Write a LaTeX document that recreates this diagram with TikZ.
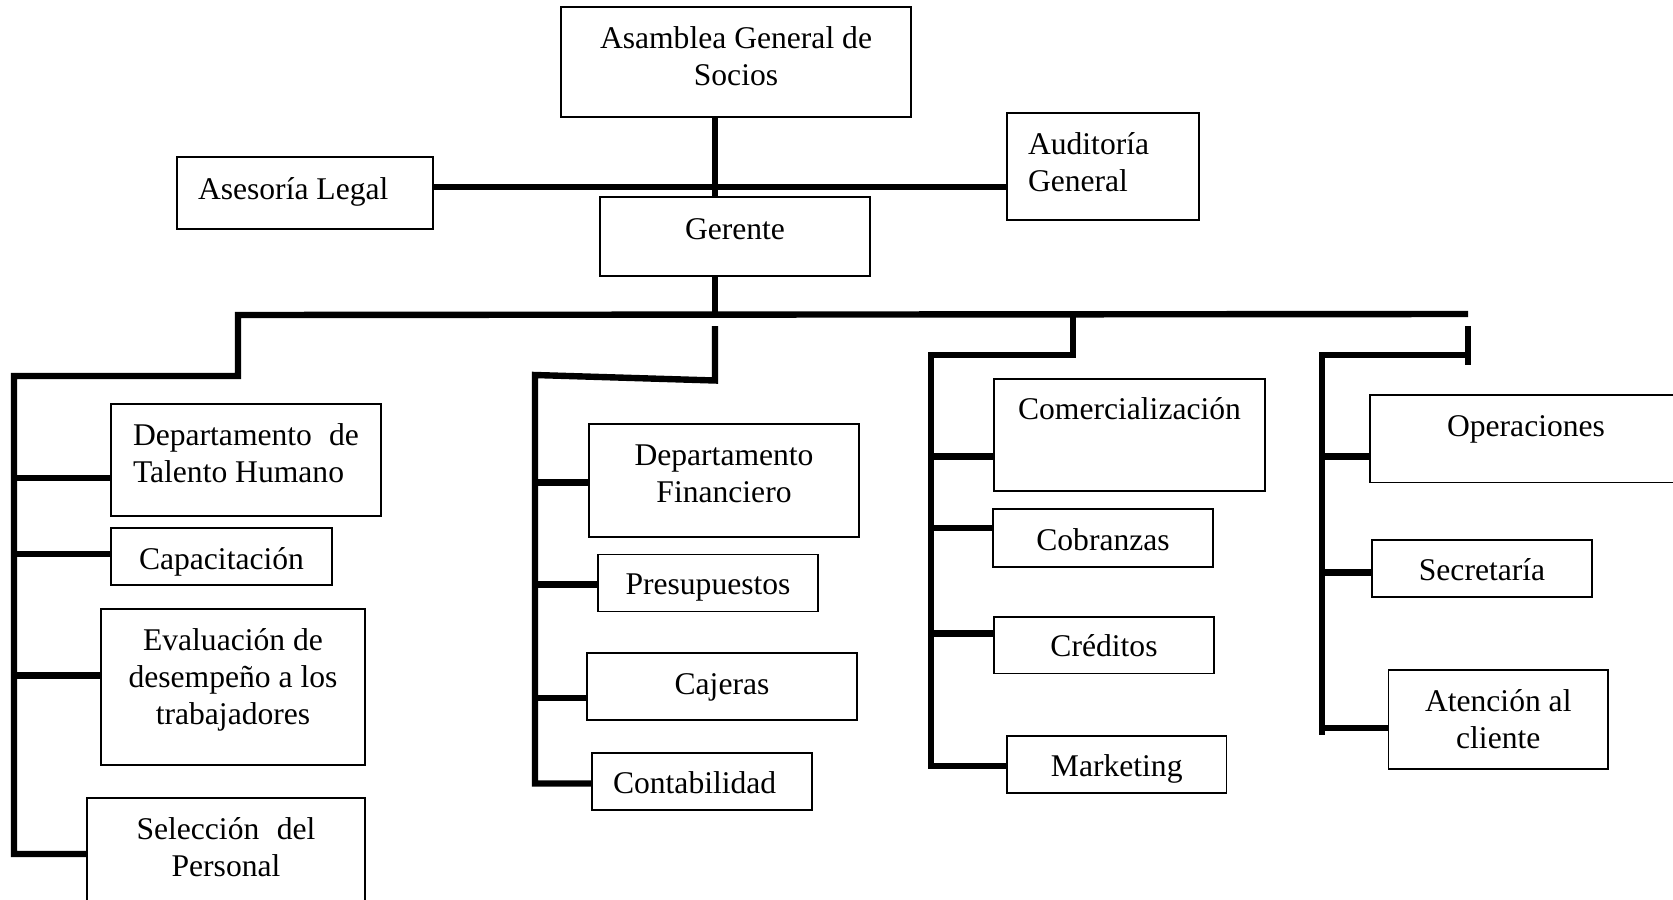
\documentclass[tikz,border=0pt]{standalone}
\usepackage{fontspec}
\setmainfont{Liberation Serif}
\newcommand\mlc[1]{\begin{tabular}[t]{@{}c@{}}#1\end{tabular}}
\newcommand\mll[1]{\begin{tabular}[t]{@{}l@{}}#1\end{tabular}}
\newcommand\orgbox[8]{\node[box, text height=#5pt+0.75pt, text depth=#6pt-0.75pt] (#1) at (#2,#3+1.5) {\makebox[#4pt][#7]{#8}};}
\begin{document}
\begin{tikzpicture}[x=0.5pt, y=-0.5pt,
  box/.style={draw, line width=0.8pt, inner sep=0pt, outer sep=0pt, anchor=base,
    font=\fontsize{15.8}{18.6}\selectfont},
  conn/.style={line width=3.2pt, line join=miter}]
\useasboundingbox (0,0) rectangle (1673,899);
\clip (0,0) rectangle (1673,899);
% top level
\orgbox{asam}{736}{46.7}{175}{19.85}{35.15}{c}{\mlc{Asamblea General de\\Socios}}
\orgbox{leg}{305}{198}{128}{20.5}{15.5}{l}{\hspace*{10.5pt}Asesoría Legal}
\orgbox{ger}{735}{237.5}{135}{20.25}{19.25}{c}{Gerente}
\orgbox{aud}{1103}{153}{96}{20}{33.5}{l}{\hspace*{10.5pt}\mll{Auditoría\\General}}
% column 1
\orgbox{th}{246}{444}{135}{20}{36}{c}{\mll{\makebox[113pt][s]{Departamento\hfill de}\\Talento Humano}}
\orgbox{cap}{221.5}{567.5}{110.5}{19.75}{8.75}{c}{Capacitación}
\orgbox{eva}{233}{648.5}{132}{19.75}{58.25}{c}{\mlc{Evaluación de\\desempeño a los\\trabajadores}}
\orgbox{sel}{226}{837.5}{139}{19.75}{46.25}{c}{\mlc{\makebox[89.5pt][s]{Selección\hfill del}\\Personal}}
% column 2
\orgbox{fin}{724}{464}{135}{20}{36.5}{c}{\mlc{Departamento\\Financiero}}
\orgbox{pre}{708}{593.3}{110}{19.4}{9.1}{c}{Presupuestos}
\orgbox{caj}{722}{693}{135}{20}{13.5}{c}{Cajeras}
\orgbox{con}{702}{792}{110}{19.5}{9}{l}{\hspace*{10.5pt}Contabilidad}
% column 3
\orgbox{com}{1129.5}{418.4}{135.5}{19.7}{36.3}{c}{Comercialización}
\orgbox{cob}{1103}{549}{110}{20}{9}{c}{Cobranzas}
\orgbox{cre}{1104}{655.2}{110}{19.1}{9.2}{c}{Créditos}
\orgbox{mkt}{1116.75}{774.8}{109.75}{19.4}{9.1}{c}{Marketing}
% column 4
\orgbox{ope}{1526}{434.8}{156}{19.9}{23.9}{c}{Operaciones}
\orgbox{sec}{1482}{578.8}{110}{19.4}{9.1}{c}{Secretaría}
\orgbox{ate}{1498.25}{709.5}{109.75}{19.75}{29.75}{c}{\mlc{Atención al\\cliente}}
% junction coordinates
\coordinate (jl) at (715,187);
\coordinate (b0) at (715,315);
\coordinate (bL) at (238,315);
\coordinate (bR) at (1468,314);
\coordinate (c1) at (238,376);
\coordinate (c1t) at (14,376);
\coordinate (c1b) at (14,854);
\coordinate (s1a) at (14,478);
\coordinate (s1b) at (14,554);
\coordinate (s1c) at (14,675.5);
\coordinate (c2a) at (715,326);
\coordinate (c2b) at (715,380.5);
\coordinate (c2c) at (535,375);
\coordinate (c2d) at (535,783.5);
\coordinate (s2a) at (535,482.4);
\coordinate (s2b) at (535,584.6);
\coordinate (s2c) at (535,697.7);
\coordinate (c3a) at (1073,314);
\coordinate (c3b) at (1073,355);
\coordinate (c3c) at (931,355);
\coordinate (c3d) at (931,766);
\coordinate (s3a) at (931,456.6);
\coordinate (s3b) at (931,528);
\coordinate (s3c) at (931,633.5);
\coordinate (c4a) at (1468,326);
\coordinate (c4b) at (1468,365);
\coordinate (c4c) at (1468,355);
\coordinate (c4d) at (1322,355);
\coordinate (c4e) at (1322,735);
\coordinate (s4a) at (1322,456.6);
\coordinate (s4b) at (1322,572.3);
\coordinate (s4c) at (1322,727.8);
% connectors
\draw[conn] (asam.south -| jl) -- (ger.north -| jl);
\draw[conn] (leg.east |- jl) -- (aud.west |- jl);
\draw[conn] (ger.south -| b0) -- (b0);
\draw[conn] (c1b -| sel.west) -- (c1b) -- (c1t) -- (c1) -- (bL) -- (bR);
\draw[conn] (s1a) -- (s1a -| th.west);
\draw[conn] (s1b) -- (s1b -| cap.west);
\draw[conn] (s1c) -- (s1c -| eva.west);
\draw[conn] (c2a) -- (c2b) -- (c2c) -- (c2d) -- (c2d -| con.west);
\draw[conn] (s2a) -- (s2a -| fin.west);
\draw[conn] (s2b) -- (s2b -| pre.west);
\draw[conn] (s2c) -- (s2c -| caj.west);
\draw[conn] (c3a) -- (c3b) -- (c3c) -- (c3d) -- (c3d -| mkt.west);
\draw[conn] (s3a) -- (s3a -| com.west);
\draw[conn] (s3b) -- (s3b -| cob.west);
\draw[conn] (s3c) -- (s3c -| cre.west);
\draw[conn] (c4a) -- (c4b);
\draw[conn] (c4c) -- (c4d) -- (c4e);
\draw[conn] (s4a) -- (s4a -| ope.west);
\draw[conn] (s4b) -- (s4b -| sec.west);
\draw[conn] (s4c) -- (s4c -| ate.west);
\end{tikzpicture}
\end{document}
